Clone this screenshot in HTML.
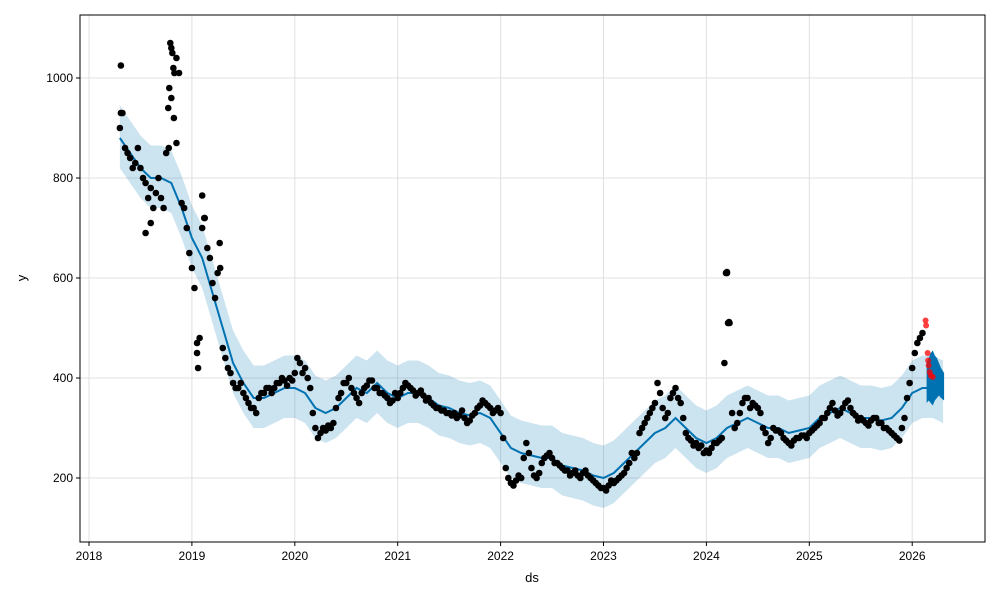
<!DOCTYPE html>
<html><head><meta charset="utf-8"><style>
html,body{margin:0;padding:0;background:#fff;}
svg{display:block;font-family:"Liberation Sans","DejaVu Sans",sans-serif;}
</style></head><body>
<svg id="chart" width="1000" height="600" viewBox="0 0 1000 600"></svg>
<script>
const xTicks=[2018,2019,2020,2021,2022,2023,2024,2025,2026];
const yTicks=[200,400,600,800,1000];
const obsStart=2018.30, obsStep=0.05;
const obsValues=[900,860,840,830,820,790,780,770,760,850,960,1040,750,700,
620,470,700,660,590,610,460,420,390,380,370,350,340,360,370,380,380,390,395,400,
410,430,420,380,300,290,295,300,340,370,390,380,360,370,385,395,380,370,360,355,
360,380,385,375,370,365,360,345,340,335,330,330,325,320,315,330,345,350,340,335,
330,220,190,195,200,270,220,200,230,245,240,230,220,215,210,205,210,205,195,185,
180,185,190,200,210,230,240,290,310,330,350,370,320,360,380,350,290,275,270,265,
255,260,270,280,610,330,310,350,360,350,340,300,270,300,295,280,270,275,280,285,
290,300,310,320,340,335,330,350,340,325,320,310,315,320,310,300,290,280,300,360,
420,470,490];
const obs2Start=2018.325;
const obsValues2=[930,850,820,860,800,760,740,800,740,860,920,1010,740,650,
580,480,720,640,560,620,440,410,380,390,360,340,330,370,380,370,390,400,385,395,
440,410,400,330,280,300,305,310,360,390,400,370,350,380,395,380,370,365,350,370,
370,390,380,365,375,355,350,340,335,330,325,320,335,310,325,340,355,345,330,340,
280,200,185,205,240,250,205,210,240,250,230,225,215,205,215,200,215,200,190,180,
175,195,195,205,220,250,250,300,320,340,390,340,330,370,360,320,280,265,260,250,
250,270,275,430,510,300,330,360,340,345,330,290,280,295,290,275,265,280,285,280,
295,305,320,330,350,325,340,355,330,315,315,305,320,310,300,295,285,275,320,390,
450,480];
const outlierT=[2018.31,2018.31,2018.79,2018.8,2018.81,2018.82,2018.83,2018.78,2018.77,2018.85,2019.1,2019.27,2019.06,2019.05,2019.12,2024.19,2024.2,2024.21,2024.22,2018.55,2018.6];
const outlierV=[1025,930,1070,1060,1050,1020,1010,980,940,870,765,670,420,450,720,610,612,510,512,690,710];
const fcStart=2018.3, fcStep=0.1;
const yhatValues=[880,850,820,800,800,790,740,680,640,570,500,430,390,360,360,370,380,380,370,340,330,340,360,380,370,390,370,360,370,370,360,345,340,330,325,330,320,290,260,250,245,240,240,225,220,215,205,200,210,230,250,270,290,300,320,300,280,270,280,300,310,320,310,300,300,290,295,300,320,330,340,330,320,320,315,320,340,370,380,380,370];
const bandUpper=65, bandLower=60;
const futureT=[2026.14,2026.16,2026.18,2026.20,2026.22,2026.24,2026.26,2026.28,2026.31];
const futureHigh=[430,440,450,455,445,440,430,420,410];
const futureLow=[350,355,350,345,355,360,365,360,355];
const redT=[2026.13,2026.135,2026.15,2026.155,2026.16,2026.17,2026.18,2026.2];
const redV=[515,505,450,435,425,412,405,402];

const L=80,R=985,T=15,B=542;
const X=t=>89+(t-2018)*102.9;
const Y=v=>578-v*0.5;
const svg=document.getElementById('chart');
const NS='http://www.w3.org/2000/svg';
function mk(tag,attrs,parent){const e=document.createElementNS(NS,tag);for(const k in attrs)e.setAttribute(k,attrs[k]);(parent||svg).appendChild(e);return e;}

const grid=mk('g',{});


xTicks.forEach(t=>{mk('line',{x1:X(t),x2:X(t),y1:T,y2:B,stroke:'#e0e0e0','stroke-width':1},grid);});
yTicks.forEach(v=>{mk('line',{x1:L,x2:R,y1:Y(v),y2:Y(v),stroke:'#e0e0e0','stroke-width':1},grid);});

let up=[],lo=[];
yhatValues.forEach((v,i)=>{const t=fcStart+i*fcStep;up.push(X(t)+','+Y(v+bandUpper));lo.push(X(t)+','+Y(v-bandLower));});
const band=mk('polygon',{points:up.concat(lo.reverse()).join(' '),fill:'#0072B2','fill-opacity':0.2});



let fu=[],fl=[];
futureT.forEach((t,i)=>{fu.push(X(t)+','+Y(futureHigh[i]));fl.push(X(t)+','+Y(futureLow[i]));});
const fr=mk('polygon',{points:fu.concat(fl.reverse()).join(' '),fill:'#0072B2'});



const pts=yhatValues.map((v,i)=>X(fcStart+i*fcStep)+','+Y(v)).join(' ');
const yl=mk('polyline',{points:pts,fill:'none',stroke:'#0072B2','stroke-width':2});



const og=mk('g',{});


function dot(t,v){
  const c=mk('circle',{cx:X(t),cy:Y(v),r:3.3,fill:'#000'},og);
  
  
}
obsValues.forEach((v,i)=>dot(obsStart+i*obsStep,v));
obsValues2.forEach((v,i)=>dot(obs2Start+i*obsStep,v));
outlierV.forEach((v,i)=>dot(outlierT[i],v));

const rg=mk('g',{});


redT.forEach((t,i)=>{
  const c=mk('circle',{cx:X(t),cy:Y(redV[i]),r:3,fill:'#ff0000','fill-opacity':0.75},rg);
  
  
});

const fr2=mk('rect',{x:L,y:T,width:R-L,height:B-T,fill:'none',stroke:'#000','stroke-width':1});



xTicks.forEach(t=>{
  mk('line',{x1:X(t),x2:X(t),y1:B,y2:B+4,stroke:'#000'});
  const tx=mk('text',{x:X(t),y:B+18,'text-anchor':'middle','font-size':12,fill:'#000'});
  tx.textContent=t;
  
  
});
yTicks.forEach(v=>{
  mk('line',{x1:L-4,x2:L,y1:Y(v),y2:Y(v),stroke:'#000'});
  const tx=mk('text',{x:L-7,y:Y(v)+4,'text-anchor':'end','font-size':12,fill:'#000'});
  tx.textContent=v;
  
  
});
const xt=mk('text',{x:532,y:582,'text-anchor':'middle','font-size':13,fill:'#000'});
xt.textContent='ds';


const yt=mk('text',{x:26,y:278,'text-anchor':'middle','font-size':13,fill:'#000',transform:'rotate(-90 26 278)'});
yt.textContent='y';


</script>
</body></html>
